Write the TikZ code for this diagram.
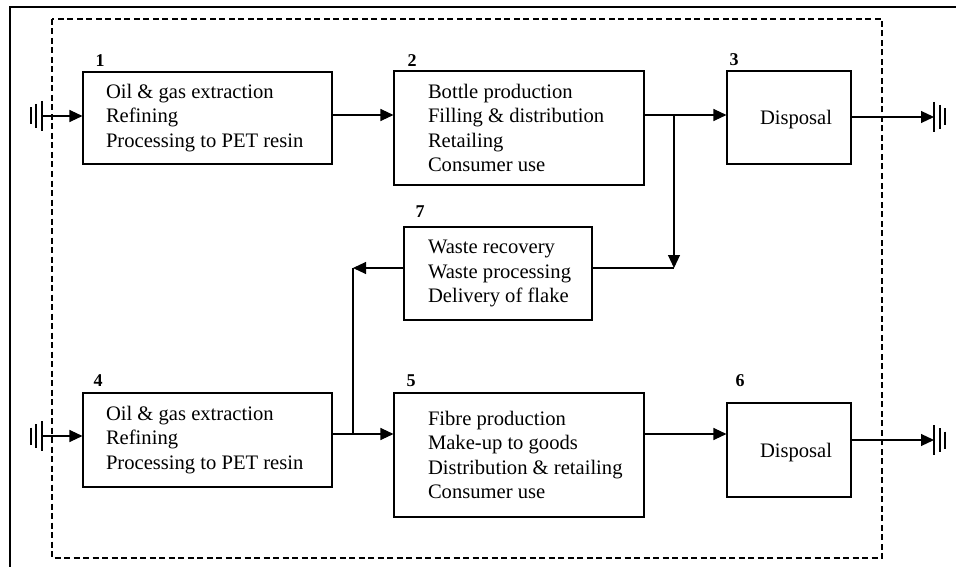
\documentclass[tikz,border=0pt]{standalone}
\usepackage{fontspec}
\setmainfont{Liberation Serif}
\usetikzlibrary{arrows.meta,positioning}
\tikzstyle{stage}=[rectangle, draw, line width=1.1pt, inner sep=0pt]
\tikzstyle{steps}=[inner sep=0pt, align=left, font=\fontsize{20.6}{24.6}\selectfont]
\tikzstyle{num}=[inner sep=0pt, font=\fontsize{18}{20}\selectfont\bfseries]
\tikzstyle{bound}=[line width=1.6pt, dash pattern=on 6pt off 3.5pt]
% three bars, #2 = -1 opens to the left, 1 to the right
\newcommand{\earth}[2]{%
  \draw (#1) ++(#2*0,-15) -- ++(0,30)
        (#1) ++(#2*6,-12) -- ++(0,24)
        (#1) ++(#2*11,-8.5) -- ++(0,17);}

\begin{document}
\begin{tikzpicture}[x=1pt, y=-1pt, line width=1.1pt, >={Triangle[length=13pt,width=12pt]}]
                \useasboundingbox (0,0) rectangle (956,567);
                \draw[line width=1.2pt] (10,567) -- (10,7) -- (956,7);
                \draw[bound] (52,19) rectangle (882,558);
                % boxes
                \node[stage, minimum width=249pt, minimum height=92pt] (s1) at (207.5,118) {};
                \node[stage, minimum width=250pt, minimum height=114pt] (s2) at (519,128) {};
                \node[stage, minimum width=124pt, minimum height=93pt] (s3) at (789,117.5) {};
                \node[stage, minimum width=249pt, minimum height=94pt] (s4) at (207.5,440) {};
                \node[stage, minimum width=250pt, minimum height=124pt] (s5) at (519,455) {};
                \node[stage, minimum width=124pt, minimum height=94pt] (s6) at (789,450) {};
                \node[stage, minimum width=188pt, minimum height=93pt] (s7) at (498,273.5) {};
                % texts
                \node[steps, right=23pt of s1.west] (t1) {Oil \& gas extraction\\Refining\\Processing to PET resin};
                \node[steps, right=34pt of s2.west] (t2) {Bottle production\\Filling \& distribution\\Retailing\\Consumer use};
                \node[steps, right=33pt of s3.west, yshift=-2pt] (t3) {Disposal};
                \node[steps, right=23pt of s4.west] (t4) {Oil \& gas extraction\\Refining\\Processing to PET resin};
                \node[steps, right=34pt of s5.west] (t5) {Fibre production\\Make-up to goods\\Distribution \& retailing\\Consumer use};
                \node[steps, right=33pt of s6.west, yshift=-3pt] (t6) {Disposal};
                \node[steps, right=24pt of s7.west] (t7) {Waste recovery\\Waste processing\\Delivery of flake};
                % numbers
                \node[num] (n1) at (100,61) {1};
                \node[num] (n2) at (412,61) {2};
                \node[num] (n3) at (734,60) {3};
                \node[num] (n4) at (98,381) {4};
                \node[num] (n5) at (411,381) {5};
                \node[num] (n6) at (740,381) {6};
                \node[num] (n7) at (420,212) {7};
                % flows
                \coordinate (src1) at (42,116);
                \coordinate (src2) at (42,436);
                \coordinate (snk1) at (934,117);
                \coordinate (snk2) at (934,440);
                \coordinate (j1) at (674,115);
                \coordinate (j2) at (674,268);
                \coordinate (j3) at (353,268);
                \coordinate (j4) at (353,434);
                \earth{src1}{-1}
                \earth{src2}{-1}
                \earth{snk1}{1}
                \earth{snk2}{1}
                \draw[->] (src1) -- (s1.west |- src1);
                \draw[->] (src2) -- (s4.west |- src2);
                \draw[->] (s1.east |- j1) -- (s2.west |- j1);
                \draw[->] (s2.east |- j1) -- (s3.west |- j1);
                \draw[->] (s3.east |- snk1) -- (snk1);
                \draw[->] (j1) -- (j2);
                \draw (s7.east |- j2) -- (j2);
                \draw[->] (s7.west |- j3) -- (j3);
                \draw (j3) -- (j4);
                \draw[->] (s4.east |- j4) -- (s5.west |- j4);
                \draw[->] (s5.east |- j4) -- (s6.west |- j4);
                \draw[->] (s6.east |- snk2) -- (snk2);
            \end{tikzpicture}
\end{document}
